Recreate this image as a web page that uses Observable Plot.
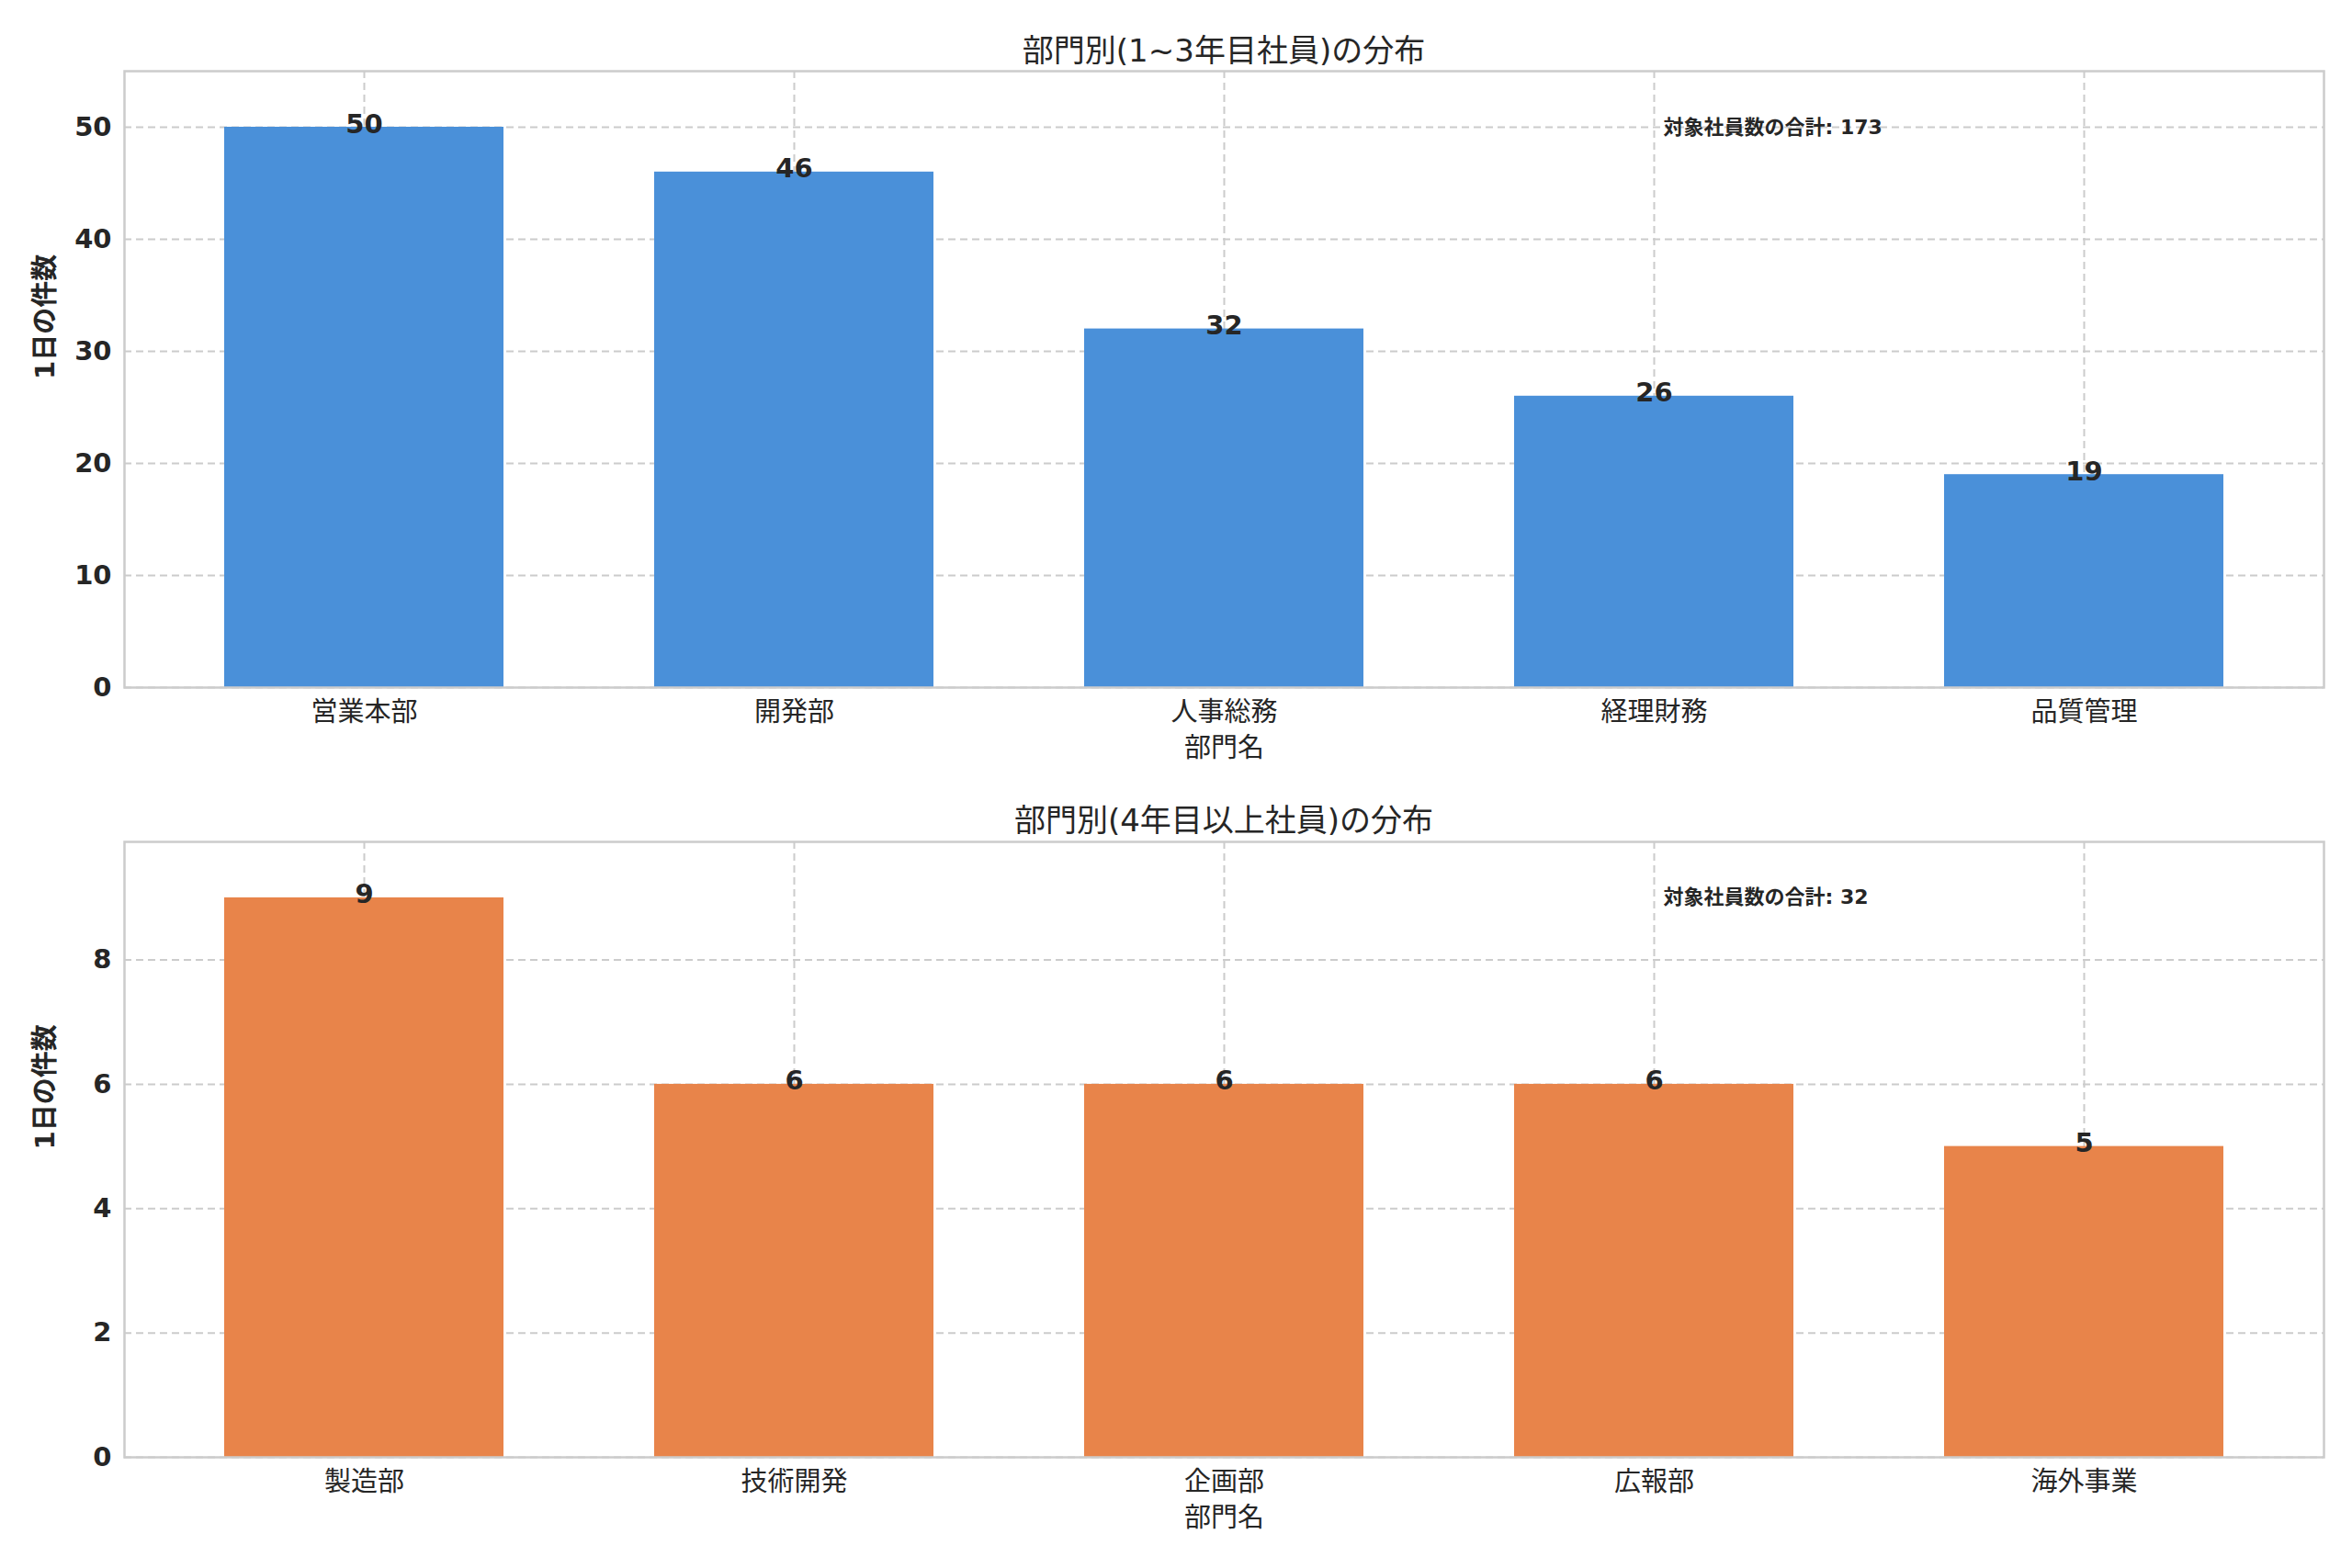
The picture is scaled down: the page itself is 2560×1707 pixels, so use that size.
<!DOCTYPE html>
<html><head><meta charset="utf-8">
<script src="https://cdn.jsdelivr.net/npm/d3@7"></script>
<script src="https://cdn.jsdelivr.net/npm/@observablehq/plot@0.6"></script>
<style>
body{margin:0;background:#fff;font-family:"DejaVu Sans","Noto Sans CJK JP",sans-serif;color:#262626}
#wrap{position:relative;width:2560px;height:1707px}
.t{position:absolute;left:135px;width:2394px;text-align:center;font-size:34px}
svg{position:absolute;left:0}
</style></head><body><div id="wrap"></div>
<script>
const title1 = "部門別(1~3年目社員)の分布";
const title2 = "部門別(4年目以上社員)の分布";
const cats1 = ["営業本部","開発部","人事総務","経理財務","品質管理"];
const vals1 = [50,46,32,26,19];
const cats2 = ["製造部","技術開発","企画部","広報部","海外事業"];
const vals2 = [9,6,6,6,5];
const total1 = "対象社員数の合計: 173";
const total2 = "対象社員数の合計: 32";
const yLabel = "1日の件数";
const xLabel = "部門名";
const ticks1 = [0,10,20,30,40,50];
const ticks2 = [0,2,4,6,8];

const font = '"DejaVu Sans","Noto Sans CJK JP",sans-serif';
function chart(cats, vals, color, ymax, ticks, total, annY, height, mt, mb){
  const data = cats.map((c,i)=>({c, v: vals[i]}));
  return Plot.plot({
    width:2560, height, marginLeft:135, marginRight:31, marginTop:mt, marginBottom:mb,
    style:{fontFamily:font, fontSize:"29px", color:"#262626", background:"#fff"},
    x:{domain:cats, paddingInner:0.35, paddingOuter:0.23, label:null, tickSize:0, tickPadding:14},
    y:{domain:[0,ymax], ticks, label:null, tickSize:0, tickPadding:14},
    marks:[
      Plot.gridY(ticks,{stroke:"#cccccc", strokeOpacity:1, strokeDasharray:"8,5", strokeWidth:2}),
      Plot.gridX(cats,{stroke:"#cccccc", strokeOpacity:1, strokeDasharray:"8,5", strokeWidth:2}),
      Plot.barY(data,{x:"c", y:"v", fill:color}),
      Plot.text(data,{x:"c", y:"v", text:d=>String(d.v), lineAnchor:"bottom", dy:6, fontWeight:"bold", fontSize:29, fill:"#262626"}),
      Plot.text([0],{x:()=>cats[3], y:()=>annY, text:()=>total, textAnchor:"start", dx:10, fontWeight:"bold", fontSize:22, fill:"#262626"}),
      Plot.axisY({ticks, tickSize:0, tickPadding:14, fontWeight:"bold", label:null}),
      Plot.axisX({tickSize:0, tickPadding:16, label:null}),
      Plot.frame({stroke:"#cccccc", strokeWidth:2.5}),
      Plot.text([0],{frameAnchor:"bottom", dy: 75, text:()=>xLabel, fontSize:29, fill:"#262626"}),
      Plot.text([0],{frameAnchor:"left", dx:-86, rotate:-90, text:()=>yLabel, fontSize:29, fontWeight:"bold", fill:"#262626"})
    ]
  });
}
const wrap = document.getElementById("wrap");
const s1 = chart(cats1, vals1, "#4A90D9", 55, ticks1, total1, 50, 860, 77, 112);
s1.style.top = "0px";
const s2 = chart(cats2, vals2, "#E8844A", 9.9, ticks2, total2, 9, 847, 56, 121);
s2.style.top = "860px";
wrap.append(s1, s2);
const t1 = document.createElement("div"); t1.className="t"; t1.style.top="28px"; t1.textContent=title1;
const t2 = document.createElement("div"); t2.className="t"; t2.style.top="866px"; t2.textContent=title2;
wrap.append(t1,t2);
</script></body></html>
